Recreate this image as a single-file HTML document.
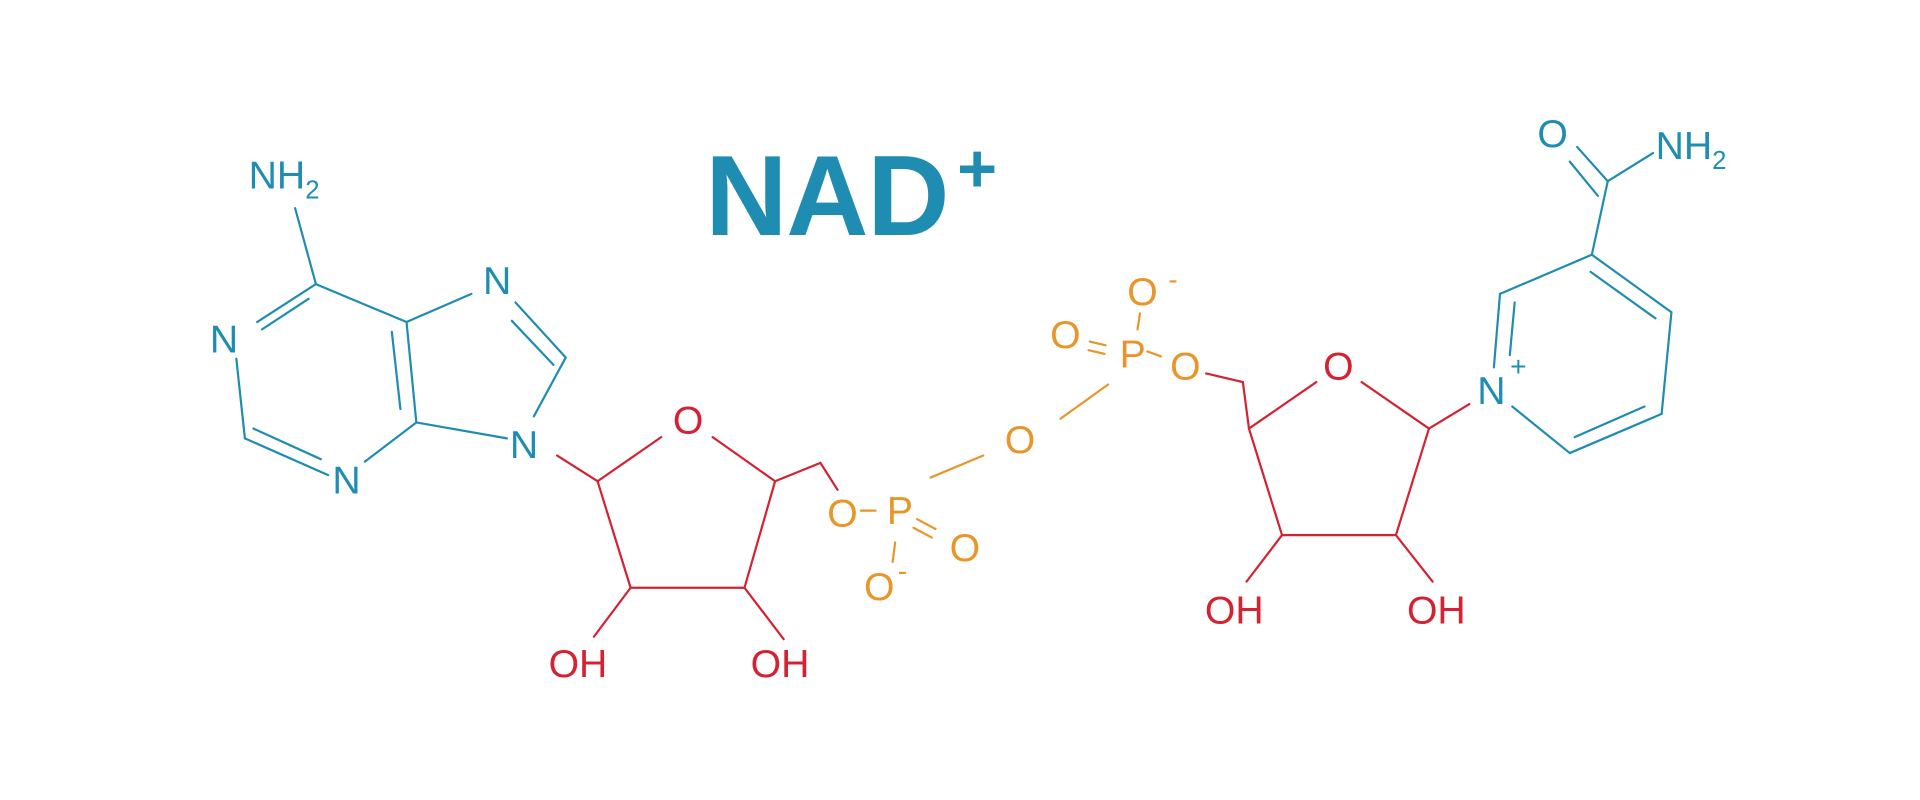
<!DOCTYPE html>
<html><head><meta charset="utf-8"><style>
html,body{margin:0;padding:0;background:#fff;}
svg{display:block}
text{font-family:"Liberation Sans",sans-serif;}
</style></head><body>
<svg width="1920" height="800" viewBox="0 0 1568 653.33" xmlns="http://www.w3.org/2000/svg">
<g stroke="#1f8db2" stroke-width="1.8" fill="none" stroke-linecap="round">
<line x1="241" y1="170" x2="258" y2="232"/>
<line x1="258" y1="232" x2="210" y2="263"/>
<line x1="252" y1="244" x2="214" y2="269"/>
<line x1="193" y1="293" x2="200" y2="358"/>
<line x1="200" y1="358" x2="268" y2="388"/>
<line x1="207" y1="350" x2="262" y2="375"/>
<line x1="298" y1="377" x2="340" y2="345"/>
<line x1="340" y1="345" x2="332" y2="263"/>
<line x1="327" y1="334" x2="320" y2="271"/>
<line x1="258" y1="232" x2="332" y2="263"/>
<line x1="332" y1="263" x2="385" y2="240"/>
<line x1="421" y1="247" x2="462" y2="292"/>
<line x1="418" y1="262" x2="452" y2="298"/>
<line x1="462" y1="292" x2="436" y2="340"/>
<line x1="340" y1="345" x2="414" y2="358"/>
<line x1="1235" y1="332" x2="1282" y2="370"/>
<line x1="1282" y1="370" x2="1357" y2="338"/>
<line x1="1286" y1="357" x2="1343" y2="332"/>
<line x1="1357" y1="338" x2="1365" y2="255"/>
<line x1="1365" y1="255" x2="1300" y2="208"/>
<line x1="1352" y1="260" x2="1299" y2="222"/>
<line x1="1300" y1="208" x2="1225" y2="240"/>
<line x1="1225" y1="240" x2="1220" y2="300"/>
<line x1="1237" y1="247" x2="1233" y2="290"/>
<line x1="1300" y1="208" x2="1313" y2="148"/>
<line x1="1313" y1="148" x2="1288" y2="120"/>
<line x1="1305" y1="160" x2="1282" y2="132"/>
<line x1="1313" y1="148" x2="1350" y2="125"/>
</g>
<g stroke="#d42232" stroke-width="1.8" fill="none" stroke-linecap="round">
<line x1="455" y1="372" x2="488" y2="393"/>
<line x1="488" y1="393" x2="540" y2="357"/>
<line x1="582" y1="357" x2="633" y2="393"/>
<line x1="488" y1="393" x2="515" y2="480"/>
<line x1="515" y1="480" x2="608" y2="480"/>
<line x1="608" y1="480" x2="633" y2="393"/>
<line x1="515" y1="480" x2="485" y2="520"/>
<line x1="608" y1="480" x2="640" y2="522"/>
<line x1="633" y1="393" x2="670" y2="378"/>
<line x1="670" y1="378" x2="684" y2="400"/>
<line x1="985" y1="305" x2="1015" y2="312"/>
<line x1="1015" y1="312" x2="1020" y2="350"/>
<line x1="1020" y1="350" x2="1075" y2="312"/>
<line x1="1112" y1="312" x2="1167" y2="350"/>
<line x1="1020" y1="350" x2="1047" y2="437"/>
<line x1="1047" y1="437" x2="1140" y2="437"/>
<line x1="1140" y1="437" x2="1167" y2="350"/>
<line x1="1047" y1="437" x2="1018" y2="475"/>
<line x1="1140" y1="437" x2="1170" y2="475"/>
<line x1="1167" y1="350" x2="1200" y2="330"/>
</g>
<g stroke="#e8962a" stroke-width="1.8" fill="none" stroke-linecap="round">
<line x1="703" y1="417" x2="715" y2="417"/>
<line x1="749" y1="424" x2="764" y2="432"/>
<line x1="746" y1="431" x2="761" y2="439"/>
<line x1="731" y1="443" x2="729" y2="459"/>
<line x1="760" y1="390" x2="803" y2="372"/>
<line x1="866" y1="342" x2="905" y2="314"/>
<line x1="890" y1="279" x2="903" y2="282"/>
<line x1="889" y1="286" x2="902" y2="289"/>
<line x1="937" y1="287" x2="948" y2="291"/>
<line x1="931" y1="256" x2="929" y2="269"/>
</g>
<g font-size="32" fill="#1f8db2" text-anchor="middle">
<text x="232" y="154">NH<tspan font-size="21" dy="8">2</tspan></text>
<text x="183" y="288">N</text>
<text x="283" y="403">N</text>
<text x="406" y="240">N</text>
<text x="428" y="374">N</text>
<text x="1218" y="330">N</text>
<text x="1240" y="307" font-size="23">+</text>
<text x="1268" y="120">O</text>
<text x="1381" y="130">NH<tspan font-size="21" dy="8">2</tspan></text>
</g>
<g font-size="32" fill="#d42232" text-anchor="middle">
<text x="562" y="354">O</text>
<text x="472" y="553">OH</text>
<text x="637" y="553">OH</text>
<text x="1093" y="310">O</text>
<text x="1008" y="509">OH</text>
<text x="1173" y="509">OH</text>
</g>
<g font-size="32" fill="#e8962a" text-anchor="middle">
<text x="688" y="430">O</text>
<text x="735" y="428">P</text>
<text x="788" y="458">O</text>
<text x="718" y="490">O</text>
<text x="737" y="474" font-size="23">-</text>
<text x="833" y="370">O</text>
<text x="925" y="300">P</text>
<text x="870" y="284">O</text>
<text x="933" y="249">O</text>
<text x="958" y="236" font-size="23">-</text>
<text x="968" y="310">O</text>
</g>
<text x="576" y="192" font-size="93" font-weight="bold" fill="#1f8db2" style="letter-spacing:-1px">NAD</text>
<text x="798" y="157" font-size="56" font-weight="bold" fill="#1f8db2" text-anchor="middle">+</text>
</svg>
</body></html>
